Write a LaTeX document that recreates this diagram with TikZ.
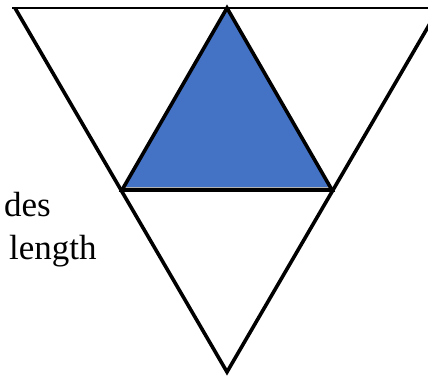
\documentclass[tikz,border=0pt]{standalone}
\usepackage{fontspec}
\setmainfont{Liberation Serif}
\definecolor{officeblue}{HTML}{4472C4}
\tikzset{
  edge/.style={line width=3.6pt, line join=miter, line cap=butt},
  topline/.style={line width=2.4pt},
  lbl/.style={font=\fontsize{35}{40}\selectfont, inner sep=0pt}
}
\begin{document}
\begin{tikzpicture}[x=1pt,y=-1pt]
\useasboundingbox (0,0) rectangle (428,379);
\clip (0,0) rectangle (428,379);
\coordinate (TL) at (15,8);
\coordinate (TR) at (439,8);
\coordinate (B) at (227,372);
\coordinate (L) at (122,190);
\coordinate (R) at (332,190);
\coordinate (T) at (227,8);
\coordinate (HL) at (12,8);
\coordinate (HR) at (440,8);
\fill[officeblue] (L) -- (T) -- (R) -- cycle;
\draw[gray!60, line width=1.2pt] ([xshift=-4pt,yshift=2pt]L) -- ([xshift=4pt,yshift=2pt]R);
\draw[topline] (HL) -- (HR);
\draw[edge] (TL) -- (B) -- (TR);
\draw[edge] (L) -- (T) -- (R) -- cycle;
\node[lbl, anchor=base east] (t1) at (51,217) {des};
\node[lbl, anchor=base west] (t2) at (9,260) {length};
\end{tikzpicture}
\end{document}
